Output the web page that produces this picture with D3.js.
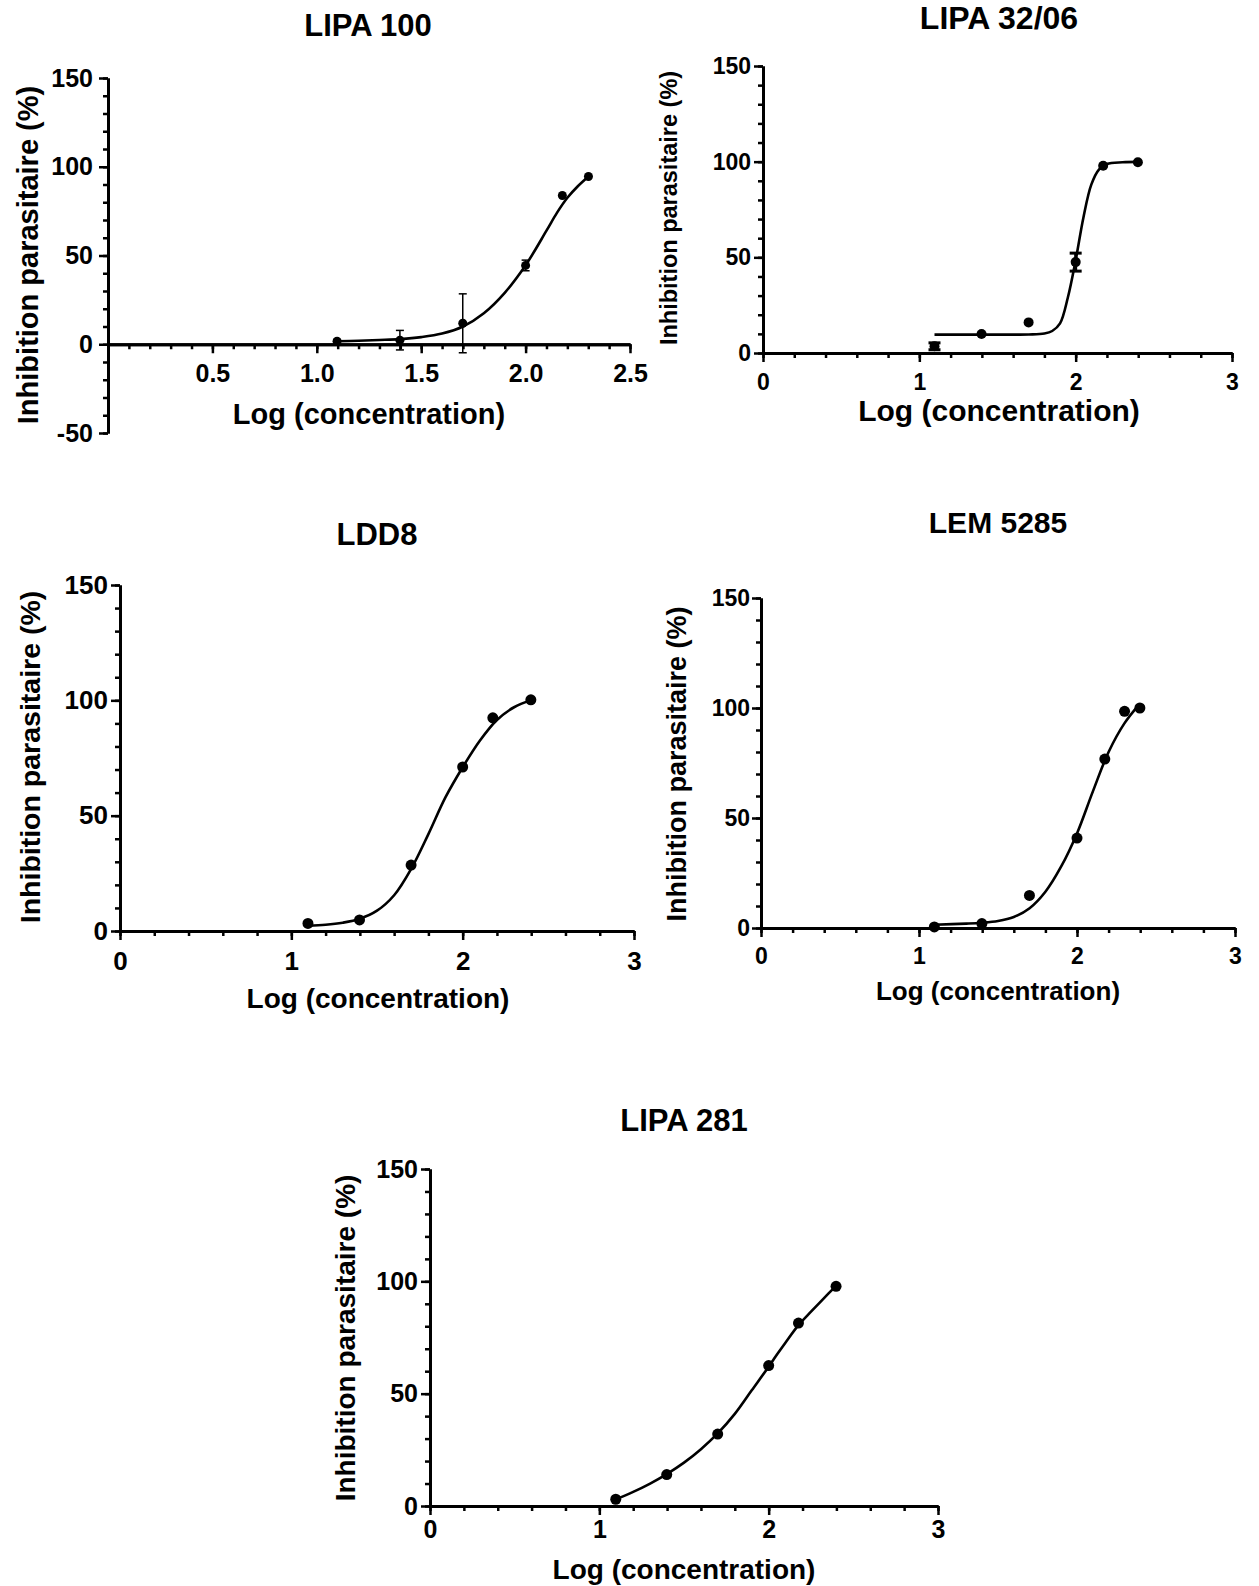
<!DOCTYPE html>
<html>
<head>
<meta charset="utf-8">
<script src="https://cdn.jsdelivr.net/npm/d3@7"></script>
<style>
  body { margin: 0; background: #fff; }
  svg { display: block; font-family: "Liberation Sans", Arial, sans-serif; font-weight: bold; }
</style>
</head>
<body>
<svg id="chart" width="1259" height="1586"></svg>
<script>
// log10 of the concentrations tested (12.5, 25, 50, 100, 150, 200, 250)
const logConcA = [1.097, 1.398, 1.699, 2.0, 2.176, 2.301];
const logConcB = [1.097, 1.398, 1.699, 2.0, 2.176, 2.398];
const logConcC = [1.097, 1.398, 1.699, 2.0, 2.176, 2.301, 2.398];

// mean inhibition (%) and error bars
const lipa100Mean = [1.7, 2.3, 11.8, 44.4, 83.8, 94.5];
const lipa100Err  = [1, 5.5, 16.6, 3, 0, 0];
const lipa3206Mean = [3.5, 9.9, 16, 47.5, 97.9, 99.7];
const lipa3206Err  = [1.8, 0, 0, 4.7, 0, 0];
const ldd8Mean = [3.3, 4.8, 28.6, 71.1, 92.4, 100.2];
const lem5285Mean = [0.5, 2, 14.8, 40.9, 76.8, 98.5, 100];
const lipa281Mean = [3, 14, 32, 62.5, 81.4, 97.8];

// fitted curves, sampled from the figure as [log conc, inhibition]
const lipa100Fit = [[1.097, 1.7], [1.2, 2], [1.3, 2.4], [1.4, 2.9], [1.5, 4], [1.6, 6], [1.7, 10],
  [1.8, 17.5], [1.9, 29], [2.0, 44.5], [2.1, 64], [2.15, 74], [2.2, 82.5], [2.25, 89], [2.301, 94.5]];
const lipa3206Fit = [[1.097, 9.6], [1.5, 9.6], [1.7, 9.7], [1.8, 10.2], [1.85, 11.5], [1.9, 15.5],
  [1.95, 29], [2.0, 48.5], [2.05, 71], [2.1, 88], [2.15, 96], [2.2, 98.8], [2.3, 99.7], [2.398, 99.9]];
const ldd8Fit = [[1.097, 2.3], [1.2, 2.7], [1.3, 3.6], [1.4, 5.3], [1.5, 8.8], [1.6, 15.5], [1.7, 27],
  [1.8, 42], [1.9, 58], [2.0, 71], [2.1, 82.5], [2.2, 91.5], [2.3, 97], [2.398, 100]];
const lem5285Fit = [[1.097, 1.5], [1.3, 2], [1.4, 2.4], [1.5, 3.2], [1.6, 5], [1.7, 9], [1.8, 16.5],
  [1.9, 28], [2.0, 43], [2.1, 62], [2.2, 80], [2.3, 93], [2.398, 102]];
const lipa281Fit = [[1.097, 3], [1.2, 6.3], [1.3, 10], [1.398, 14.2], [1.5, 19.3], [1.6, 25.3], [1.699, 32.3],
  [1.8, 41], [1.9, 51.5], [2.0, 62], [2.05, 67.5], [2.1, 72.8], [2.176, 80.5], [2.25, 86.5], [2.32, 92],
  [2.398, 98]];

// tick labels
const xTicksFine = [0.5, 1.0, 1.5, 2.0, 2.5];
const xTicksInt = [0, 1, 2, 3];
const yTicksNeg = [-50, 0, 50, 100, 150];
const yTicks = [0, 50, 100, 150];

const xTitle = 'Log (concentration)';
const yTitle = 'Inhibition parasitaire (%)';

const panels = [
  { title: 'LIPA 100', xs: logConcA, mean: lipa100Mean, err: lipa100Err, fit: lipa100Fit,
    xDom: [0, 2.5], yDom: [-50, 150], xRange: [108, 630], yRange: [433, 78],
    xTicks: xTicksFine, xFmt: d3.format('.1f'), xMinor: 0.1, yTicks: yTicksNeg,
    tickFont: 25, xPad: 11, yPad: 6, r: 4.5, errW: 1.5, cap: 4,
    titlePos: [368, 36, 31], xLabPos: [369, 424, 29], yLabPos: [38, 255, 29] },
  { title: 'LIPA 32/06', xs: logConcB, mean: lipa3206Mean, err: lipa3206Err, fit: lipa3206Fit,
    xDom: [0, 3], yDom: [0, 150], xRange: [763, 1232], yRange: [353, 66],
    xTicks: xTicksInt, xFmt: d3.format('d'), xMinor: 0.2, yTicks: yTicks,
    tickFont: 23, xPad: 12, yPad: 3, r: 5, errW: 3, cap: 6,
    titlePos: [999, 29, 32], xLabPos: [999, 421, 30], yLabPos: [677, 208, 23.5] },
  { title: 'LDD8', xs: logConcB, mean: ldd8Mean, err: null, fit: ldd8Fit,
    xDom: [0, 3], yDom: [0, 150], xRange: [120, 634], yRange: [931, 585],
    xTicks: xTicksInt, xFmt: d3.format('d'), xMinor: 0.2, yTicks: yTicks,
    tickFont: 26, xPad: 12, yPad: 3, r: 5.5,
    titlePos: [377, 545, 31], xLabPos: [378, 1008, 28], yLabPos: [40, 757, 28.5] },
  { title: 'LEM 5285', xs: logConcC, mean: lem5285Mean, err: null, fit: lem5285Fit,
    xDom: [0, 3], yDom: [0, 150], xRange: [761, 1235], yRange: [928, 598],
    xTicks: xTicksInt, xFmt: d3.format('d'), xMinor: 0.2, yTicks: yTicks,
    tickFont: 23, xPad: 11, yPad: 2, r: 5.5,
    titlePos: [998, 533, 30], xLabPos: [998, 1000, 26], yLabPos: [686, 764, 27] },
  { title: 'LIPA 281', xs: logConcB, mean: lipa281Mean, err: null, fit: lipa281Fit,
    xDom: [0, 3], yDom: [0, 150], xRange: [430, 938], yRange: [1506, 1169],
    xTicks: xTicksInt, xFmt: d3.format('d'), xMinor: 0.2, yTicks: yTicks,
    tickFont: 25, xPad: 5, yPad: 3, r: 5.5,
    titlePos: [684, 1131, 31], xLabPos: [684, 1579, 28], yLabPos: [355, 1338, 28] },
];

const svg = d3.select('#chart');

function styleAxis(g, font) {
  g.select('.domain').attr('stroke', '#000').attr('stroke-width', 3);
  g.selectAll('.tick line').attr('stroke', '#000').attr('stroke-width', 2.5);
  g.selectAll('.tick text').attr('fill', '#000').attr('font-size', font)
    .attr('font-family', '"Liberation Sans", Arial, sans-serif').attr('font-weight', 'bold');
}

panels.forEach(p => {
  const x = d3.scaleLinear().domain(p.xDom).range(p.xRange);
  const y = d3.scaleLinear().domain(p.yDom).range(p.yRange);
  const g = svg.append('g');
  const y0 = y(0);

  // minor ticks first, majors (with labels) on top
  const xMinorVals = d3.range(0, p.xDom[1] + 1e-9, p.xMinor);
  const yMinorVals = d3.range(p.yDom[0], p.yDom[1] + 1e-9, 10);

  g.append('g').attr('transform', `translate(0,${y0})`)
    .call(d3.axisBottom(x).tickValues(xMinorVals).tickSize(5).tickSizeOuter(0).tickFormat(''))
    .call(a => styleAxis(a, p.tickFont));
  g.append('g').attr('transform', `translate(${p.xRange[0]},0)`)
    .call(d3.axisLeft(y).tickValues(yMinorVals).tickSize(5).tickSizeOuter(0).tickFormat(''))
    .call(a => styleAxis(a, p.tickFont));
  g.append('g').attr('transform', `translate(0,${y0})`)
    .call(d3.axisBottom(x).tickValues(p.xTicks).tickSize(9).tickSizeOuter(0)
      .tickPadding(p.xPad).tickFormat(p.xFmt))
    .call(a => styleAxis(a, p.tickFont));
  g.append('g').attr('transform', `translate(${p.xRange[0]},0)`)
    .call(d3.axisLeft(y).tickValues(p.yTicks).tickSize(9).tickSizeOuter(0)
      .tickPadding(p.yPad).tickFormat(d => String(d)))
    .call(a => styleAxis(a, p.tickFont));

  // fitted curve
  const line = d3.line().x(d => x(d[0])).y(d => y(d[1])).curve(d3.curveCatmullRom.alpha(0.5));
  g.append('path').datum(p.fit).attr('d', line)
    .attr('fill', 'none').attr('stroke', '#000').attr('stroke-width', 2.6);

  const pts = p.xs.map((v, i) => ({ x: v, y: p.mean[i], e: p.err ? p.err[i] : 0 }));

  // error bars
  const eb = g.append('g').attr('stroke', '#000').attr('stroke-width', p.errW || 2);
  pts.filter(d => d.e > 0).forEach(d => {
    const cx = x(d.x), top = y(d.y + d.e), bot = y(d.y - d.e);
    eb.append('line').attr('x1', cx).attr('x2', cx).attr('y1', top).attr('y2', bot);
    eb.append('line').attr('x1', cx - p.cap).attr('x2', cx + p.cap).attr('y1', top).attr('y2', top);
    eb.append('line').attr('x1', cx - p.cap).attr('x2', cx + p.cap).attr('y1', bot).attr('y2', bot);
  });

  g.append('g').selectAll('circle').data(pts).join('circle')
    .attr('cx', d => x(d.x)).attr('cy', d => y(d.y)).attr('r', p.r).attr('fill', '#000');

  // titles
  g.append('text').attr('x', p.titlePos[0]).attr('y', p.titlePos[1])
    .attr('text-anchor', 'middle').attr('font-size', p.titlePos[2]).text(p.title);
  g.append('text').attr('x', p.xLabPos[0]).attr('y', p.xLabPos[1])
    .attr('text-anchor', 'middle').attr('font-size', p.xLabPos[2]).text(xTitle);
  g.append('text')
    .attr('transform', `translate(${p.yLabPos[0]},${p.yLabPos[1]}) rotate(-90)`)
    .attr('text-anchor', 'middle').attr('font-size', p.yLabPos[2]).text(yTitle);
});
</script>
</body>
</html>
